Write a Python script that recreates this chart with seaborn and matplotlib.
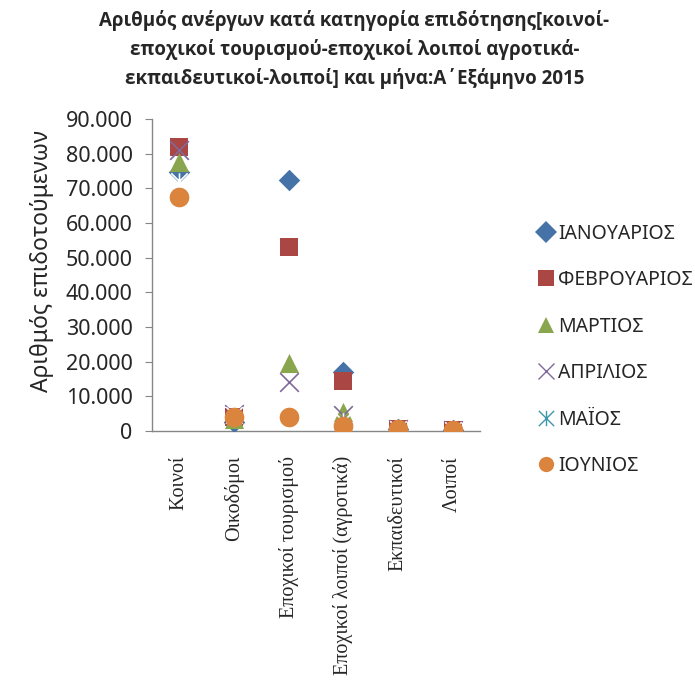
import matplotlib
matplotlib.use("Agg")
import matplotlib.pyplot as plt
import seaborn as sns
import pandas as pd
import numpy as np
from matplotlib.path import Path
from matplotlib.ticker import FuncFormatter, FixedLocator
from matplotlib.lines import Line2D

categories = ["Κοινοί", "Οικοδόμοι", "Εποχικοί τουρισμού",
              "Εποχικοί λοιποί (αγροτικά)", "Εκπαιδευτικοί", "Λοιποί"]
months = ["ΙΑΝΟΥΑΡΙΟΣ", "ΦΕΒΡΟΥΑΡΙΟΣ", "ΜΑΡΤΙΟΣ", "ΑΠΡΙΛΙΟΣ", "ΜΑΪΟΣ", "ΙΟΥΝΙΟΣ"]
jan = [74800, 2500, 72500, 17000, 500, 300]
feb = [82000, 4000, 53000, 14500, 500, 300]
mar = [77500, 3500, 19500, 5500, 400, 250]
apr = [81000, 5000, 14000, 4500, 450, 300]
may = [72000, 4500, 6500, 3000, 450, 250]
jun = [67500, 4000, 4000, 1500, 500, 300]
series = [jan, feb, mar, apr, may, jun]

colors = ["#4572A7", "#AA4643", "#89A54E", "#80699B", "#3D96AE", "#DB843D"]

star = Path([(-1, -1), (1, 1), (-1, 1), (1, -1), (0, -1), (0, 1)],
            [Path.MOVETO, Path.LINETO, Path.MOVETO, Path.LINETO, Path.MOVETO, Path.LINETO])
markers = {months[0]: "D", months[1]: "s", months[2]: "^",
           months[3]: "x", months[4]: star, months[5]: "o"}
sizes = {months[0]: 120, months[1]: 180, months[2]: 190,
         months[3]: 180, months[4]: 140, months[5]: 200}

rows = []
for m, vals in zip(months, series):
    for c, v in zip(categories, vals):
        rows.append({"cat": c, "month": m, "value": v})
df = pd.DataFrame(rows)

sns.set_style("white")
font = ["Noto Sans", "DejaVu Sans"]
plt.rcParams["font.family"] = font

fig = plt.figure(figsize=(6.95, 6.84), dpi=100)
ax = fig.add_axes([152 / 695, 1 - 431 / 684, (480 - 152) / 695, (431 - 119) / 684])

for m, col in zip(months, colors):
    sub = df[df["month"] == m]
    mk = markers[m]
    if m in (months[3], months[4]):
        sns.scatterplot(data=sub, x="cat", y="value", marker=mk, color=col,
                        s=sizes[m], linewidth=1.2, ax=ax, legend=False, zorder=3)
    else:
        sns.scatterplot(data=sub, x="cat", y="value", marker=mk, color=col,
                        s=sizes[m], linewidth=0, ax=ax, legend=False, zorder=3)

ax.set_xlim(-0.5, 5.5)
ax.set_ylim(0, 90000)
ax.yaxis.set_major_locator(FixedLocator(np.arange(0, 90001, 10000)))
ax.yaxis.set_major_formatter(FuncFormatter(lambda v, p: "0" if v == 0 else f"{int(v):,}".replace(",", ".")))
ax.set_xticks(range(len(categories)))
ax.set_xticklabels(categories, rotation=90, family=["Liberation Serif", "DejaVu Serif"], fontsize=14.5)
ax.set_xticks(np.arange(-0.5, 6, 1), minor=True)
ax.tick_params(axis="x", which="major", length=0, pad=18)
ax.tick_params(axis="x", which="minor", length=5, color="#868686", direction="out")
ax.tick_params(axis="y", length=5, color="#868686", direction="out", labelsize=15.5, pad=9, left=True)
ax.set_xlabel("")
ax.set_ylabel("Αριθμός επιδοτούμενων", fontsize=16.5)
ax.yaxis.set_label_coords(-0.30, 0.545)
for s in ["top", "right"]:
    ax.spines[s].set_visible(False)
for s in ["left", "bottom"]:
    ax.spines[s].set_color("#868686")
    ax.spines[s].set_linewidth(1)

fig.text(0.51, 0.985, "Αριθμός ανέργων κατά κατηγορία επιδότησης[κοινοί-\n"
         "εποχικοί τουρισμού-εποχικοί λοιποί αγροτικά-\n"
         "εκπαιδευτικοί-λοιποί] και μήνα:Α΄Εξάμηνο 2015",
         ha="center", va="top", fontsize=13.5, fontweight="bold",
         family=["Open Sans", "DejaVu Sans"], linespacing=1.5)

handles = []
for m, col in zip(months, colors):
    if m in (months[3], months[4]):
        h = Line2D([], [], marker=markers[m], color=col, linestyle="none",
                   markersize=11, markeredgewidth=1.0, markerfacecolor="none")
    else:
        h = Line2D([], [], marker=markers[m], color=col, linestyle="none",
                   markersize=11, markeredgewidth=0)
    handles.append(h)
fig.legend(handles, months, loc="upper left", bbox_to_anchor=(530 / 695, 1 - 216 / 684),
           frameon=False, fontsize=14, handlelength=0.8, handletextpad=0.25,
           labelspacing=1.36, borderaxespad=0)

fig.savefig("out.png", dpi=100)
